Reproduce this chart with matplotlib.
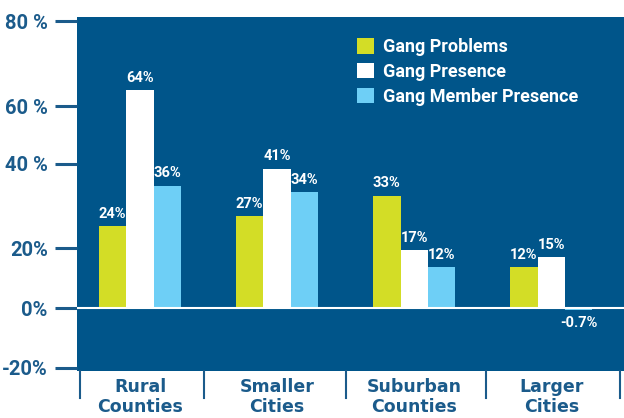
import numpy as np
import matplotlib
matplotlib.use("Agg")
import matplotlib.pyplot as plt
from matplotlib.patches import Patch

# data
categories = ["Rural\nCounties", "Smaller\nCities", "Suburban\nCounties", "Larger\nCities"]
gang_problems = [24, 27, 33, 12]
gang_presence = [64, 41, 17, 15]
member_presence = [36, 34, 12, -0.7]
series_names = ["Gang Problems", "Gang Presence", "Gang Member Presence"]
value_labels = [["24%", "27%", "33%", "12%"],
                ["64%", "41%", "17%", "15%"],
                ["36%", "34%", "12%", "-0.7%"]]
ytick_labels = ["-20%", "0%", "20%", "40 %", "60 %", "80 %"]

# colours
bg = "#00558a"
navy = "#1b5b8b"
colors = ["#d3dd26", "#ffffff", "#6ecff6"]

narrow = ["Roboto", "DejaVu Sans"]

fig = plt.figure(figsize=(6.24, 4.18), dpi=100)
ax = fig.add_axes([77 / 624, 47 / 418, 547 / 624, 354 / 418])
ax.set_facecolor(bg)

x = np.arange(len(categories))
w = 0.2
all_series = [gang_problems, gang_presence, member_presence]
for i, vals in enumerate(all_series):
    bars = ax.bar(x + (i - 1) * w, vals, w, color=colors[i], zorder=2)
    for b, v, lab in zip(bars, vals, value_labels[i]):
        cx = b.get_x() + b.get_width() / 2
        if v >= 0:
            ax.annotate(lab, (cx, v), xytext=(0, 4), textcoords="offset points",
                        ha="center", va="bottom", color="white",
                        fontsize=10.5, family=narrow, fontweight="bold")
        else:
            ax.annotate(lab, (cx, v), xytext=(0, -4), textcoords="offset points",
                        ha="center", va="top", color="white",
                        fontsize=10.5, family=narrow, fontweight="bold")

ax.axhline(0, color="white", lw=1.5, zorder=3)

# y axis placed like the printed original
ax.set_ylim(-18.5, 85.6)
ax.set_xlim(-0.46, 3.53)
ax.set_yticks([-17.6, 0, 17.6, 42.4, 59.4, 84.4])
ax.set_yticklabels(ytick_labels, family=narrow, fontweight="bold",
                   fontsize=14.5, color=navy)
ax.tick_params(axis="y", length=16, width=2.2, color=navy, pad=5)

ax.set_xticks(x)
ax.set_xticklabels(categories, fontweight="bold", fontsize=12.5,
                   color=navy, linespacing=1.15)
ax.tick_params(axis="x", length=0, pad=5)

for s in ax.spines.values():
    s.set_visible(False)

# separators under the plot
for sx in [-0.44, 0.47, 1.5, 2.52, 3.5]:
    ax.plot([sx, sx], [0, -0.075], color=navy, lw=1.5,
            transform=ax.get_xaxis_transform(), clip_on=False)

handles = [Patch(facecolor=c, edgecolor="none") for c in colors]
leg = ax.legend(handles, series_names, loc="upper left",
                bbox_to_anchor=(271 / 547, 1 - 12 / 354), frameon=False,
                handlelength=0.95, handleheight=0.95, handletextpad=0.5,
                labelspacing=0.38, borderpad=0,
                prop={"family": narrow, "weight": "bold", "size": 13})
for t in leg.get_texts():
    t.set_color("white")

fig.savefig("out.png", dpi=100, facecolor="white")
